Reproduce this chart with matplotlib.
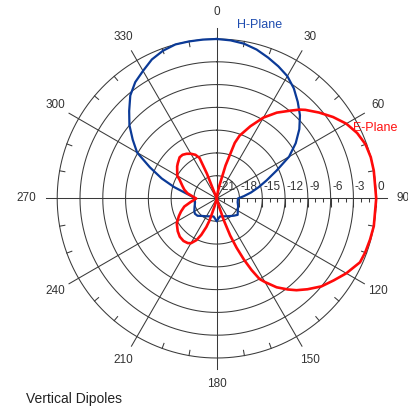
import numpy as np
import matplotlib
matplotlib.use("Agg")
import matplotlib.pyplot as plt
from matplotlib.lines import TICKDOWN

plt.rcParams['font.family'] = ['Liberation Sans', 'DejaVu Sans']

# ---- data (angle in degrees clockwise from top, level in dB) ----
h_angle = [0, 5, 10, 15, 20, 25, 30, 35, 40, 45, 50, 55, 60, 65, 70, 75, 80, 85, 90,
           100, 110, 120, 128, 135, 140, 150, 160, 170, 176, 180, 184, 190, 200, 210,
           220, 228, 235, 240, 250, 260, 270, 275, 280, 285, 290, 295, 300, 305, 310,
           315, 320, 325, 330, 335, 340, 345, 350, 355, 360]
h_db = [0.0, -0.1, -0.3, -0.7, -1.25, -1.8, -2.4, -3.3, -4.4, -5.5, -6.8, -8.3, -10.0,
        -12.3, -14.0, -15.3, -16.4, -17.4, -18.2,
        -18.2, -18.0, -17.8, -17.5, -17.8, -18.0, -18.3, -18.5, -18.6, -18.3, -18.0,
        -18.3, -18.6, -18.5, -18.3,
        -18.0, -17.6, -17.5, -17.6, -17.9, -18.1, -18.1, -17.7, -16.8, -15.2, -13.3,
        -11.3, -8.9, -7.5, -6.0,
        -4.7, -3.3, -2.3, -1.6, -0.8, -0.3, 0.0, 0.0, 0.0, 0.0]

e_angle = [0, 5, 10, 12, 15, 18, 20, 25, 30, 35, 40, 43, 45, 50, 55, 60, 65, 70, 75, 80,
           90, 100, 105, 110, 114, 120, 125, 130, 135, 139, 142, 146, 150, 152, 154, 156,
           158, 160, 162, 164, 166, 180, 195, 198, 200, 203, 206, 210, 213, 218, 224, 230,
           238, 245, 250, 256, 262, 270, 275, 280, 285, 290, 297, 300, 309, 312, 318,
           322, 326, 330, 334, 337, 338.5, 340, 350, 360]
e_db = [-21, -21, -20.0, -19.2, -16.5, -13.3, -12.2, -10.5, -8.7, -7.2, -5.9, -5.0, -4.5,
        -3.4, -2.3, -1.3, -0.6, -0.15, 0.0, 0.0,
        0.0, 0.0, -0.1, -0.2, -0.35, -1.3, -2.2, -3.0, -4.1, -5.0, -5.8, -6.9, -8.3,
        -9.0, -10.5, -12.2,
        -14.0, -15.8, -18.0, -20.0, -21, -21, -20.0, -18.0, -17.0, -15.8, -14.9, -14.2,
        -14.0, -13.9, -14.0, -14.3,
        -14.8, -15.5, -16.0, -16.6, -17.5, -18.3, -17.8, -17.1, -16.6, -16.2, -15.5,
        -15.0, -14.3, -14.1, -13.7,
        -13.7, -13.9, -14.2, -14.6, -15.2, -17.5, -21, -21, -21]

ring_levels = [-18, -15, -12, -9, -6, -3, 0]
ring_labels = ['-21', '-18', '-15', '-12', '-9', '-6', '-3', '0']
label_levels = [-21, -18, -15, -12, -9, -6, -3, 0]
angle_ticks = list(range(0, 360, 30))

R_MIN, R_MAX = -21, 0
GRID = '#3a3a3a'

fig = plt.figure(figsize=(4.08, 4.07), dpi=100)
ax = fig.add_axes([0.1402, 0.1204, 0.7819, 0.7838], projection='polar')
ax.set_theta_zero_location('N')
ax.set_theta_direction(-1)
ax.set_ylim(R_MIN, R_MAX)
ax.grid(False)
ax.set_xticks([])
ax.set_yticks([])
ax.spines['polar'].set_visible(False)
ax.patch.set_visible(False)

full = np.linspace(0, 2 * np.pi, 721)
for r in ring_levels:
    ax.plot(full, np.full_like(full, r), color=GRID, lw=0.75, clip_on=False, zorder=1)

ext = 1.45
for a in angle_ticks:
    t = np.deg2rad(a)
    ax.plot([t, t], [R_MIN, ext], color=GRID, lw=0.75, clip_on=False, zorder=1)

# small ticks on the outer circle every 10 degrees
for a in range(0, 360, 10):
    if a % 30:
        t = np.deg2rad(a)
        ax.plot([t, t], [0, -0.7], color=GRID, lw=0.75, clip_on=False, zorder=1)

# ticks under the 90-degree axis
minor = [v for v in range(-21, 1) if v % 3]
ax.plot(np.full(len(minor), np.pi / 2), minor, ls='none', marker=TICKDOWN,
        markersize=3, mew=0.75, color=GRID, clip_on=False, zorder=1)
ax.plot(np.full(len(label_levels), np.pi / 2), label_levels, ls='none', marker=TICKDOWN,
        markersize=6.5, mew=0.75, color=GRID, clip_on=False, zorder=1)

# radial labels
for lv, s in zip(label_levels, ring_labels):
    ax.annotate(s, xy=(np.pi / 2, lv), xytext=(1, 8), textcoords='offset points',
                ha='left', va='center', fontsize=8.5, color='#333333', zorder=2)

# angle labels
lab_r = 186 / 159.5 * 21 - 21
for a in angle_ticks:
    t = np.deg2rad(a)
    if a == 90:
        ax.text(t, 180 / 159.5 * 21 - 21, str(a), ha='left', va='center', fontsize=8.5,
                color='#333333')
    elif a == 270:
        ax.text(t, 181 / 159.5 * 21 - 21, str(a), ha='right', va='center', fontsize=8.5,
                color='#333333')
    else:
        ax.text(t, lab_r, str(a), ha='center', va='center', fontsize=8.5, color='#333333')

ax.plot(np.deg2rad(h_angle), h_db, color='#0b3a97', lw=1.6, clip_on=False, zorder=3)
ax.plot(np.deg2rad(e_angle), e_db, color='#ff0a0a', lw=1.9, clip_on=False, zorder=4)

fig.text(237 / 408, 1 - 24.5 / 407, 'H-Plane', ha='left', va='center', fontsize=9,
         color='#1f4db0')
fig.text(353 / 408, 1 - 128 / 407, 'E-Plane', ha='left', va='center', fontsize=9,
         color='#ff1010')
fig.text(26 / 408, 1 - 399 / 407, 'Vertical Dipoles', ha='left', va='center',
         fontsize=10, color='#222222')

fig.savefig('out.png', dpi=100)
